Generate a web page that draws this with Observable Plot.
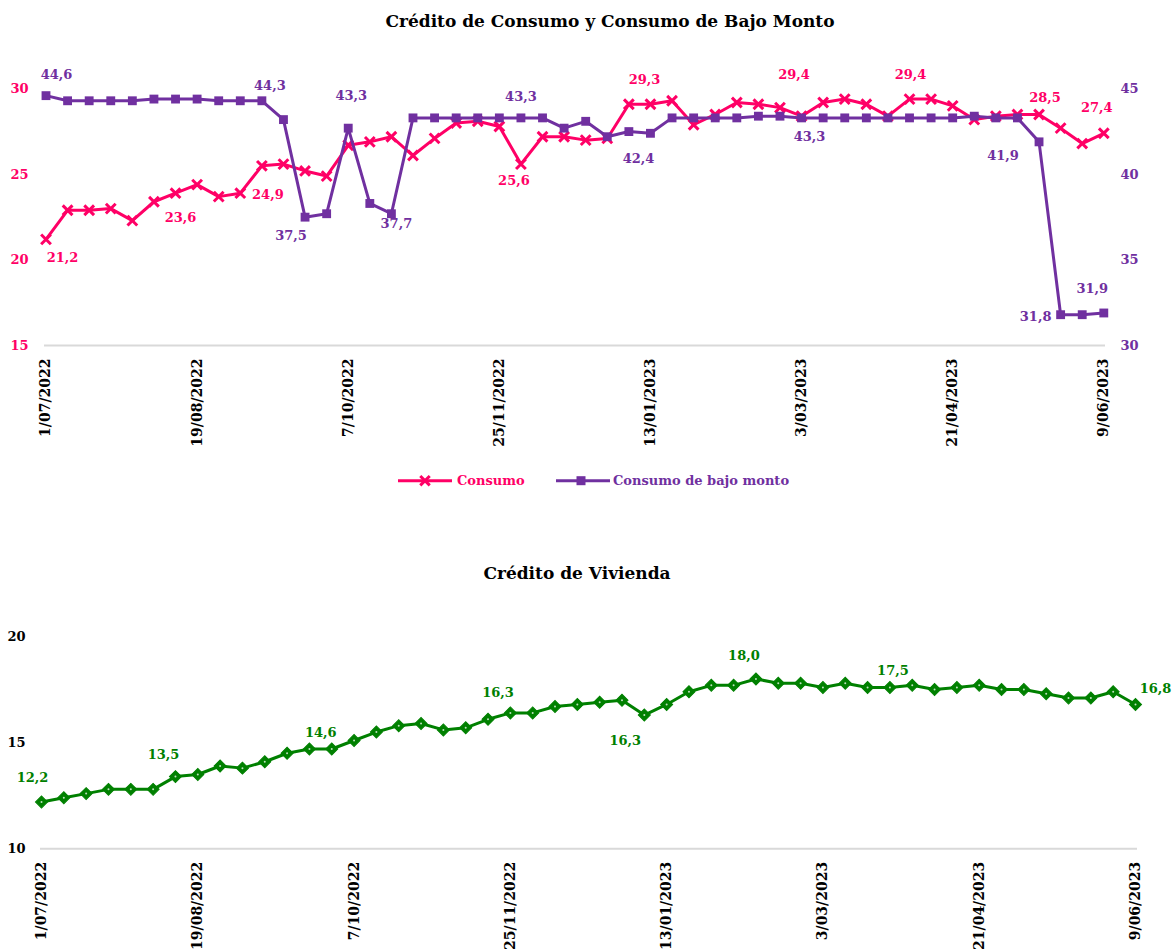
<!DOCTYPE html>
<html>
<head>
<meta charset="utf-8">
<script src="https://cdn.jsdelivr.net/npm/d3@7"></script>
<script src="https://cdn.jsdelivr.net/npm/@observablehq/plot@0.6"></script>
<style>
  body { margin: 0; background: #fff; }
  #wrap { position: relative; width: 1172px; height: 951px; overflow: hidden; background: #fff;
          font-family: "DejaVu Serif", serif; font-weight: bold; }
  .title { position: absolute; text-align: center; font-size: 17px; line-height: 20px; color: #000; white-space: nowrap; }
  .chart { position: absolute; left: 0; width: 1172px; }
  .chart svg { max-width: none !important; }
  #legend { position: absolute; left: 0; top: 465px; }
</style>
</head>
<body>
<div id="wrap">
  <div class="title" style="left:24px;width:1172px;top:11px;">Crédito de Consumo y Consumo de Bajo Monto</div>
  <div class="chart" id="top" style="top:40px;"></div>
  <svg id="legend" width="1172" height="32"></svg>
  <div class="title" style="left:-9px;width:1172px;top:563px;">Crédito de Vivienda</div>
  <div class="chart" id="bottom" style="top:600px;"></div>
</div>
<script>
// ---- Data ----
const dates = [
  "1/07/2022","8/07/2022","15/07/2022","22/07/2022","29/07/2022",
  "5/08/2022","12/08/2022","19/08/2022","26/08/2022",
  "2/09/2022","9/09/2022","16/09/2022","23/09/2022","30/09/2022",
  "7/10/2022","14/10/2022","21/10/2022","28/10/2022",
  "4/11/2022","11/11/2022","18/11/2022","25/11/2022",
  "2/12/2022","9/12/2022","16/12/2022","23/12/2022","30/12/2022",
  "6/01/2023","13/01/2023","20/01/2023","27/01/2023",
  "3/02/2023","10/02/2023","17/02/2023","24/02/2023",
  "3/03/2023","10/03/2023","17/03/2023","24/03/2023","31/03/2023",
  "7/04/2023","14/04/2023","21/04/2023","28/04/2023",
  "5/05/2023","12/05/2023","19/05/2023","26/05/2023",
  "2/06/2023","9/06/2023"
];
const tickLabels = ["1/07/2022","19/08/2022","7/10/2022","25/11/2022","13/01/2023","3/03/2023","21/04/2023","9/06/2023"];

const consumo = [
  21.2, 22.9, 22.9, 23.0, 22.3, 23.4, 23.9, 24.4, 23.7, 23.9,
  25.5, 25.6, 25.2, 24.9, 26.7, 26.9, 27.2, 26.1, 27.1, 28.0,
  28.1, 27.8, 25.6, 27.2, 27.2, 27.0, 27.1, 29.1, 29.1, 29.3,
  27.9, 28.5, 29.2, 29.1, 28.9, 28.4, 29.2, 29.4, 29.1, 28.4,
  29.4, 29.4, 29.0, 28.2, 28.4, 28.5, 28.5, 27.7, 26.8, 27.4
];
const bajoMonto = [
  44.6, 44.3, 44.3, 44.3, 44.3, 44.4, 44.4, 44.4, 44.3, 44.3,
  44.3, 43.2, 37.5, 37.7, 42.7, 38.3, 37.7, 43.3, 43.3, 43.3,
  43.3, 43.3, 43.3, 43.3, 42.7, 43.1, 42.2, 42.5, 42.4, 43.3,
  43.3, 43.3, 43.3, 43.4, 43.4, 43.3, 43.3, 43.3, 43.3, 43.3,
  43.3, 43.3, 43.3, 43.4, 43.3, 43.3, 41.9, 31.8, 31.8, 31.9
];
const vivienda = [
  12.2, 12.4, 12.6, 12.8, 12.8, 12.8, 13.4, 13.5, 13.9, 13.8,
  14.1, 14.5, 14.7, 14.7, 15.1, 15.5, 15.8, 15.9, 15.6, 15.7,
  16.1, 16.4, 16.4, 16.7, 16.8, 16.9, 17.0, 16.3, 16.8, 17.4,
  17.7, 17.7, 18.0, 17.8, 17.8, 17.6, 17.8, 17.6, 17.6, 17.7,
  17.5, 17.6, 17.7, 17.5, 17.5, 17.3, 17.1, 17.1, 17.4, 16.8
];

// data labels: [point index, text]
const consumoLabels = [[0,"21,2"],[6,"23,6"],[10,"24,9"],[22,"25,6"],[28,"29,3"],[35,"29,4"],[40,"29,4"],[46,"28,5"],[49,"27,4"]];
const bajoLabels = [[0,"44,6"],[10,"44,3"],[12,"37,5"],[14,"43,3"],[16,"37,7"],[22,"43,3"],[28,"42,4"],[35,"43,3"],[46,"41,9"],[47,"31,8"],[48,"31,9"]];
const viviendaLabels = [[0,"12,2"],[6,"13,5"],[13,"14,6"],[20,"16,3"],[27,"16,3"],[32,"18,0"],[38,"17,5"],[49,"16,8"]];

// ---- Styling (label offsets in px) ----
const consumoOffsets = [[16.5,18],[5,20],[6,19],[-7,17],[-6,-21],[-7.5,-24],[1,-24],[6,-17],[-7,-25]];
const bajoOffsets = [[10.5,-21],[8,-15],[-14,19],[3,-22],[5,10],[0,-21],[-12,26],[8,19],[-36,14],[-25,2],[10,-24]];
const viviendaOffsets = [[-9,-24],[-12,-20],[-11,-18],[10,-22],[-19,26],[-12,-23],[3,-19],[20,-16]];

const PINK = "#FF0066", PURPLE = "#7030A0", GREEN = "#008000";
const FONT = "DejaVu Serif";

const topData = dates.map((d, i) => ({i, date: d, consumo: consumo[i], bajo: bajoMonto[i]}));
const botData = dates.map((d, i) => ({i, date: d, v: vivienda[i]}));
const tickIdx = tickLabels.map(t => dates.indexOf(t));
const xScale = {type: "linear", domain: [0, dates.length - 1]};

function labelMarks(labels, offsets, shift, color) {
  return labels.map(([i, t], k) => Plot.text(
    [{x: i, y: parseFloat(t.replace(",", ".")) - shift, t}],
    {x: "x", y: "y", text: "t", dx: offsets[k][0], dy: offsets[k][1],
     fill: color, fontSize: 13, fontWeight: "bold", fontFamily: FONT}
  ));
}

const xAxis = () => Plot.axisX({ticks: tickIdx, tickFormat: i => dates[i], tickRotate: -90,
  tickSize: 0, tickPadding: 13, color: "#000", label: null, fontSize: 14});

const topPlot = Plot.plot({
  width: 1172, height: 410,
  marginLeft: 44, marginRight: 67, marginTop: 48.3, marginBottom: 105,
  insetLeft: 1.5, insetRight: 1.7,
  x: xScale,
  y: {domain: [15, 30]},
  style: {fontFamily: FONT, fontWeight: "bold", fontSize: "13px", background: "transparent", overflow: "visible"},
  marks: [
    Plot.ruleY([15], {stroke: "#d9d9d9", strokeWidth: 2}),
    Plot.axisY({anchor: "left", ticks: [15, 20, 25, 30], tickSize: 0, tickPadding: 16, color: PINK, label: null}),
    Plot.axisY({anchor: "right", ticks: [15, 20, 25, 30], tickFormat: d => d + 15, tickSize: 0, tickPadding: 15, color: PURPLE, label: null}),
    xAxis(),
    Plot.line(topData, {x: "i", y: "consumo", stroke: PINK, strokeWidth: 3}),
    Plot.dot(topData, {x: "i", y: "consumo", symbol: "times", r: 4.5, stroke: PINK, strokeWidth: 3}),
    Plot.line(topData, {x: "i", y: d => d.bajo - 15, stroke: PURPLE, strokeWidth: 3}),
    Plot.dot(topData, {x: "i", y: d => d.bajo - 15, symbol: "square", r: 5, fill: PURPLE}),
    ...labelMarks(consumoLabels, consumoOffsets, 0, PINK),
    ...labelMarks(bajoLabels, bajoOffsets, 15, PURPLE)
  ]
});
document.getElementById("top").appendChild(topPlot);

const botPlot = Plot.plot({
  width: 1172, height: 351,
  marginLeft: 40, marginRight: 35, marginTop: 36, marginBottom: 102.7,
  insetLeft: 1, insetRight: 2,
  x: xScale,
  y: {domain: [10, 20]},
  style: {fontFamily: FONT, fontWeight: "bold", fontSize: "13px", background: "transparent", overflow: "visible"},
  marks: [
    Plot.ruleY([10], {stroke: "#d9d9d9", strokeWidth: 2}),
    Plot.axisY({anchor: "left", ticks: [10, 15, 20], tickSize: 0, tickPadding: 15, color: "#000", label: null}),
    xAxis(),
    Plot.line(botData, {x: "i", y: "v", stroke: GREEN, strokeWidth: 3}),
    Plot.dot(botData, {x: "i", y: "v", symbol: "square", rotate: 45, r: 4.8, fill: GREEN, stroke: GREEN, strokeWidth: 1}),
    Plot.dot(botData, {x: "i", y: "v", r: 1, fill: "#bfe0bf"}),
    ...labelMarks(viviendaLabels, viviendaOffsets, 0, GREEN)
  ]
});
document.getElementById("bottom").appendChild(botPlot);

// ---- Legend ----
const lg = d3.select("#legend");
const ly = 15.7;
const legendItems = [
  {x0: 398, x1: 452, mx: 425, color: PINK, text: "Consumo", tx: 457, kind: "x"},
  {x0: 556, x1: 610, mx: 581, color: PURPLE, text: "Consumo de bajo monto", tx: 613, kind: "sq"}
];
legendItems.forEach(it => {
  lg.append("line").attr("x1", it.x0).attr("x2", it.x1).attr("y1", ly).attr("y2", ly)
    .attr("stroke", it.color).attr("stroke-width", 3);
  if (it.kind === "x") {
    lg.append("path").attr("d", d3.symbol(d3.symbolTimes, 60)())
      .attr("transform", `translate(${it.mx},${ly})`).attr("stroke", it.color).attr("stroke-width", 3).attr("fill", "none");
  } else {
    lg.append("rect").attr("x", it.mx - 4.5).attr("y", ly - 4.5).attr("width", 9).attr("height", 9).attr("fill", it.color);
  }
  lg.append("text").attr("x", it.tx).attr("y", ly).attr("dy", "0.35em")
    .attr("fill", it.color).attr("font-family", FONT).attr("font-weight", "bold").attr("font-size", 13)
    .text(it.text);
});
</script>
</body>
</html>
